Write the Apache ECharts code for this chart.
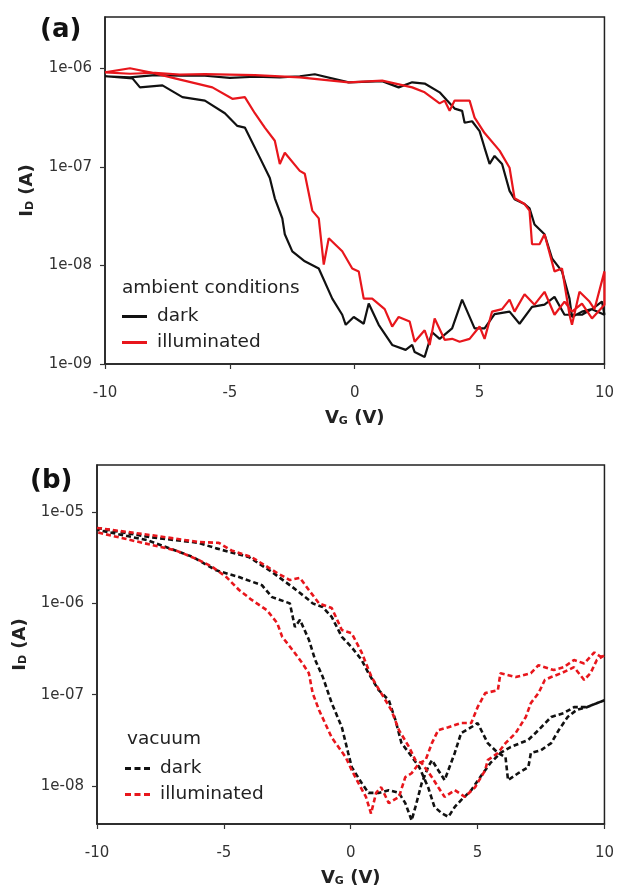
<!DOCTYPE html>
<html>
<head>
<meta charset="utf-8">
<script src="https://cdn.jsdelivr.net/npm/echarts@6/dist/echarts.min.js"></script>
<style>
  html, body { margin: 0; padding: 0; background: #fff; }
  #chart { width: 617px; height: 888px; }
</style>
</head>
<body>
<div id="chart"></div>
<script>
// ---- panel (a): ambient conditions, solid lines ----
const aDarkUpV = [-10, -9, -8, -7, -6, -5, -4, -3, -2.2, -1.6, -0.24, 1.1, 1.76, 2.3, 2.8, 3.4, 3.7, 4.0, 4.3, 4.4, 4.7, 5.0, 5.2, 5.4, 5.6, 5.9, 6.2, 6.4, 6.8, 7.0, 7.2, 7.6, 7.9, 8.3, 8.6, 8.7, 9.1, 9.5, 9.9];
const aDarkUpI = [8.3e-7, 8.1e-7, 8.5e-7, 8.4e-7, 8.4e-7, 8.0e-7, 8.2e-7, 8.1e-7, 8.3e-7, 8.7e-7, 7.2e-7, 7.4e-7, 6.4e-7, 7.2e-7, 7.0e-7, 5.7e-7, 4.7e-7, 3.9e-7, 3.7e-7, 2.8e-7, 2.9e-7, 2.3e-7, 1.56e-7, 1.07e-7, 1.29e-7, 1.07e-7, 5.7e-8, 4.7e-8, 4.2e-8, 3.8e-8, 2.6e-8, 2.07e-8, 1.18e-8, 8.7e-9, 4.6e-9, 3.0e-9, 3.4e-9, 3.6e-9, 4.3e-9];
const aDarkDownV = [-10, -8.9, -8.6, -7.7, -6.9, -6, -5.2, -4.7, -4.4, -3.8, -3.4, -3.2, -2.9, -2.8, -2.5, -2.0, -1.44, -0.9, -0.5, -0.36, -0.04, 0.36, 0.56, 0.96, 1.5, 2.04, 2.3, 2.4, 2.8, 3.1, 3.4, 3.9, 4.3, 4.8, 5.2, 5.6, 6.2, 6.6, 7.1, 7.6, 8.0, 8.4, 9.1, 9.5, 10];
const aDarkDownI = [8.3e-7, 7.9e-7, 6.4e-7, 6.7e-7, 5.1e-7, 4.7e-7, 3.5e-7, 2.6e-7, 2.5e-7, 1.24e-7, 7.7e-8, 4.8e-8, 3.0e-8, 2.07e-8, 1.39e-8, 1.1e-8, 9.3e-9, 4.6e-9, 3.16e-9, 2.5e-9, 3.0e-9, 2.56e-9, 4.1e-9, 2.5e-9, 1.56e-9, 1.39e-9, 1.56e-9, 1.32e-9, 1.18e-9, 2.1e-9, 1.8e-9, 2.3e-9, 4.5e-9, 2.3e-9, 2.3e-9, 3.2e-9, 3.4e-9, 2.56e-9, 3.8e-9, 4.0e-9, 4.8e-9, 3.16e-9, 3.16e-9, 3.6e-9, 3.16e-9];
const aIllumUpV = [-10, -9, -8, -7, -6, -4, -2.2, -0.24, 1.1, 2.3, 2.8, 3.4, 3.6, 3.8, 4.0, 4.6, 4.8, 5.2, 5.8, 6.2, 6.4, 6.8, 7.0, 7.1, 7.4, 7.6, 8.0, 8.3, 8.6, 8.7, 9.0, 9.4, 9.6, 10];
const aIllumUpI = [9.1e-7, 8.8e-7, 9.0e-7, 8.6e-7, 8.7e-7, 8.5e-7, 8.1e-7, 7.2e-7, 7.5e-7, 6.4e-7, 5.7e-7, 4.4e-7, 4.7e-7, 3.7e-7, 4.7e-7, 4.7e-7, 3.16e-7, 2.2e-7, 1.46e-7, 9.8e-8, 4.8e-8, 4.2e-8, 3.6e-8, 1.64e-8, 1.64e-8, 2.07e-8, 8.7e-9, 9.3e-9, 3.16e-9, 2.5e-9, 5.4e-9, 4.3e-9, 3.6e-9, 8.7e-9];
const aIllumDownV = [-10, -9, -8.2, -7.2, -5.7, -4.9, -4.4, -4.0, -3.6, -3.2, -3.0, -2.8, -2.2, -2.0, -1.7, -1.44, -1.24, -1.04, -0.5, -0.1, 0.16, 0.36, 0.7, 1.2, 1.5, 1.76, 2.2, 2.4, 2.8, 3.0, 3.2, 3.6, 3.9, 4.2, 4.6, 5.0, 5.2, 5.5, 5.9, 6.2, 6.4, 6.8, 7.2, 7.6, 8.0, 8.4, 8.7, 9.1, 9.5, 10];
const aIllumDownI = [9.1e-7, 1.0e-6, 9.1e-7, 7.9e-7, 6.4e-7, 4.9e-7, 5.1e-7, 3.5e-7, 2.5e-7, 1.84e-7, 1.07e-7, 1.39e-7, 9.1e-8, 8.5e-8, 3.6e-8, 3.0e-8, 1.02e-8, 1.89e-8, 1.39e-8, 9.3e-9, 8.7e-9, 4.6e-9, 4.6e-9, 3.6e-9, 2.4e-9, 3.0e-9, 2.7e-9, 1.68e-9, 2.2e-9, 1.56e-9, 2.9e-9, 1.76e-9, 1.8e-9, 1.68e-9, 1.8e-9, 2.4e-9, 1.8e-9, 3.4e-9, 3.6e-9, 4.5e-9, 3.4e-9, 5.1e-9, 4.0e-9, 5.4e-9, 3.16e-9, 4.3e-9, 3.4e-9, 4.1e-9, 2.9e-9, 4.0e-9];

// ---- panel (b): vacuum, dashed lines ----
const bDark1V = [-10, -7.9, -6, -5.3, -4, -3.1, -2.3, -1.65, -1.5, -1.1, -0.75, -0.35, 0.04, 0.43, 0.7, 1.1, 1.5, 1.76, 2.0, 2.3, 2.7, 3.05, 3.3, 3.6, 3.85, 4.1, 4.35, 4.75, 5.1, 5.5, 5.9, 6.3, 7.0, 7.4, 7.9, 8.4, 8.8, 9.3, 10];
const bDark1I = [6.7e-6, 5.3e-6, 4.6e-6, 4.0e-6, 3.2e-6, 2.2e-6, 1.51e-6, 1.09e-6, 1.0e-6, 9.1e-7, 7.1e-7, 4.3e-7, 3.3e-7, 2.4e-7, 1.72e-7, 1.12e-7, 8.7e-8, 5.3e-8, 2.95e-8, 2.3e-8, 1.61e-8, 9.7e-9, 5.9e-9, 5.0e-9, 4.6e-9, 5.9e-9, 7.0e-9, 9.0e-9, 1.25e-8, 1.78e-8, 2.3e-8, 2.67e-8, 3.2e-8, 4.1e-8, 5.7e-8, 6.3e-8, 7.3e-8, 7.3e-8, 8.7e-8];
const bDark2V = [-10, -8, -6.2, -5.3, -4.4, -3.5, -3.1, -2.4, -2.2, -2.0, -1.65, -1.4, -1.1, -0.75, -0.35, -0.1, 0.04, 0.43, 0.7, 1.1, 1.5, 1.9, 2.15, 2.4, 2.55, 2.8, 3.05, 3.2, 3.45, 3.7, 4.1, 4.35, 4.75, 5.0, 5.4, 5.8, 6.1, 6.2, 6.6, 7.0, 7.1, 7.5, 7.9, 8.2, 8.55, 8.9, 9.3, 10];
const bDark2I = [6.4e-6, 4.9e-6, 3.2e-6, 2.3e-6, 1.94e-6, 1.58e-6, 1.17e-6, 1.0e-6, 5.5e-7, 6.6e-7, 4.0e-7, 2.4e-7, 1.56e-7, 8.1e-8, 4.4e-8, 2.3e-8, 1.61e-8, 1.08e-8, 8.4e-9, 8.4e-9, 9.0e-9, 8.4e-9, 6.5e-9, 4.2e-9, 5.9e-9, 1.08e-8, 1.61e-8, 1.92e-8, 1.49e-8, 1.16e-8, 2.3e-8, 3.8e-8, 4.4e-8, 4.9e-8, 2.95e-8, 2.3e-8, 2.07e-8, 1.16e-8, 1.38e-8, 1.61e-8, 2.3e-8, 2.47e-8, 2.95e-8, 4.1e-8, 5.7e-8, 6.8e-8, 7.3e-8, 8.7e-8];
const bIllum1V = [-10, -7.9, -6, -5.2, -4.7, -3.9, -2.9, -2.4, -2.0, -1.65, -1.25, -0.75, -0.35, 0.04, 0.43, 0.82, 1.2, 1.6, 1.9, 2.3, 2.55, 2.8, 3.2, 3.45, 3.7, 4.1, 4.5, 4.9, 5.3, 5.4, 5.8, 6.1, 6.5, 6.9, 7.1, 7.4, 7.65, 7.9, 8.3, 8.8, 9.2, 9.45, 9.7, 10];
const bIllum1I = [6.7e-6, 5.6e-6, 4.7e-6, 4.6e-6, 3.8e-6, 3.2e-6, 2.15e-6, 1.8e-6, 1.9e-6, 1.4e-6, 1.0e-6, 8.9e-7, 5.1e-7, 4.7e-7, 2.9e-7, 1.56e-7, 1.04e-7, 6.8e-8, 4.1e-8, 2.67e-8, 1.92e-8, 1.78e-8, 1.25e-8, 9.7e-9, 7.6e-9, 9.0e-9, 7.6e-9, 9.7e-9, 1.49e-8, 1.92e-8, 2.3e-8, 2.95e-8, 3.8e-8, 5.7e-8, 8.1e-8, 1.04e-7, 1.45e-7, 1.56e-7, 1.72e-7, 2.0e-7, 1.45e-7, 1.72e-7, 2.4e-7, 2.7e-7];
const bIllum2V = [-10, -7.9, -6.9, -6, -5.45, -4.9, -4.4, -3.9, -3.3, -2.9, -2.7, -2.3, -1.9, -1.65, -1.5, -1.25, -0.75, -0.2, 0.04, 0.3, 0.6, 0.8, 1.0, 1.2, 1.5, 1.9, 2.15, 2.4, 2.7, 2.95, 3.2, 3.45, 3.85, 4.35, 4.75, 5.0, 5.3, 5.8, 5.9, 6.5, 7.1, 7.4, 8.0, 8.4, 8.8, 9.2, 9.6, 9.85, 10];
const bIllum2I = [6.0e-6, 4.4e-6, 3.8e-6, 3.0e-6, 2.5e-6, 1.94e-6, 1.4e-6, 1.09e-6, 8.4e-7, 6.1e-7, 4.3e-7, 3.1e-7, 2.2e-7, 1.72e-7, 1.04e-7, 6.8e-8, 3.4e-8, 2.07e-8, 1.49e-8, 1.08e-8, 7.6e-9, 5.0e-9, 8.4e-9, 9.7e-9, 6.5e-9, 7.6e-9, 1.25e-8, 1.38e-8, 1.78e-8, 1.92e-8, 2.95e-8, 4.1e-8, 4.4e-8, 4.9e-8, 4.9e-8, 7.3e-8, 1.04e-7, 1.12e-7, 1.72e-7, 1.56e-7, 1.72e-7, 2.1e-7, 1.86e-7, 2.0e-7, 2.4e-7, 2.2e-7, 2.9e-7, 2.6e-7, 2.7e-7];

const xTicks = [-10, -5, 0, 5, 10];
const aYTicks = [1e-9, 1e-8, 1e-7, 1e-6];
const bYTicks = [1e-8, 1e-7, 1e-6, 1e-5];
const seriesNames = ['dark', 'illuminated'];

const BLACK = '#111111';
const RED = '#e8161c';
const FONT = 'DejaVu Sans';
const SOLID_ICON = 'path://M0,0h25v3h-25z';
const DASH_ICON = 'path://M0,0h6v3h-6z M9.5,0h6v3h-6z M19,0h6v3h-6z';

// one sweep out and the other sweep back, drawn as one loop
function loop(v1, i1, v2, i2) {
  const out = v1.map((v, k) => [v, i1[k]]);
  const back = v2.map((v, k) => [v, i2[k]]).reverse();
  return out.concat(back);
}

function expLabel(v) {
  const p = Math.round(-Math.log10(v));
  return '1e-' + (p < 10 ? '0' + p : p);
}

const rich = {
  b: { fontFamily: FONT, fontWeight: 'bold', fontSize: 18, color: '#222' },
  s: { fontFamily: FONT, fontWeight: 'bold', fontSize: 11, color: '#222', padding: [7, 0, 0, 0] }
};

function xAxisCfg(idx) {
  return {
    type: 'value', gridIndex: idx, min: -10, max: 10, interval: 5,
    axisLine: { lineStyle: { color: '#222', width: 1.5 } },
    axisTick: { length: 5, lineStyle: { color: '#333', width: 1.2 }, customValues: xTicks },
    axisLabel: { color: '#333', fontFamily: FONT, fontSize: 15, margin: 22, customValues: xTicks },
    splitLine: { show: false },
    name: '{b|V}{s|G}{b| (V)}', nameLocation: 'middle', nameGap: 45,
    nameTextStyle: { rich: rich }
  };
}

function yAxisCfg(idx, min, max, ticks, gap) {
  return {
    type: 'log', logBase: 10, gridIndex: idx, min: min, max: max,
    axisLine: { show: true, onZero: false, lineStyle: { color: '#222', width: 1.5 } },
    axisTick: { show: true, length: 5, lineStyle: { color: '#333', width: 1.2 }, customValues: ticks },
    axisLabel: { color: '#333', fontFamily: FONT, fontSize: 15, margin: 13, customValues: ticks, formatter: expLabel },
    splitLine: { show: false },
    name: '{b|I}{s|D}{b| (A)}', nameLocation: 'middle', nameRotate: 90, nameGap: gap,
    nameTextStyle: { rich: rich }
  };
}

function legendCfg(names, icon, left, top) {
  return {
    data: names.map(n => ({ name: n, icon: icon })),
    orient: 'vertical', left: left, top: top,
    itemWidth: 25, itemHeight: 3, itemGap: 7, selectedMode: false,
    formatter: n => n.split('_')[0],
    textStyle: { fontFamily: FONT, fontSize: 18.5, color: '#222', padding: [0, 0, 0, 5], lineHeight: 19 }
  };
}

function lineSeries(name, axis, data, color, dashed) {
  return {
    name: name, type: 'line', xAxisIndex: axis, yAxisIndex: axis,
    data: data, symbol: 'none', animation: false,
    lineStyle: { color: color, width: dashed ? 2.6 : 2.2, type: dashed ? [5, 3] : 'solid' },
    itemStyle: { color: color }
  };
}

const chart = echarts.init(document.getElementById('chart'));
chart.setOption({
  backgroundColor: '#fff',
  grid: [
    { left: 105, top: 17, width: 501, height: 347, show: true, borderColor: '#222', borderWidth: 1.5 },
    { left: 97, top: 465, width: 510, height: 359, show: true, borderColor: '#222', borderWidth: 1.5 }
  ],
  xAxis: [xAxisCfg(0), xAxisCfg(1)],
  yAxis: [
    yAxisCfg(0, 1e-9, Math.pow(10, -5.48), aYTicks, 69),
    yAxisCfg(1, Math.pow(10, -8.416), Math.pow(10, -4.485), bYTicks, 68)
  ],
  legend: [
    legendCfg(seriesNames.map(n => n + '_a'), SOLID_ICON, 117, 302),
    legendCfg(seriesNames.map(n => n + '_b'), DASH_ICON, 120, 754)
  ],
  graphic: [
    { type: 'text', left: 40, top: 17, style: { text: '(a)', font: 'bold 26px "DejaVu Sans"', fill: '#111' } },
    { type: 'text', left: 30, top: 468, style: { text: '(b)', font: 'bold 26px "DejaVu Sans"', fill: '#111' } },
    { type: 'text', left: 122, top: 279, style: { text: 'ambient conditions', font: '18.5px "DejaVu Sans"', fill: '#222' } },
    { type: 'text', left: 127, top: 730, style: { text: 'vacuum', font: '18.5px "DejaVu Sans"', fill: '#222' } }
  ],
  series: [
    lineSeries('dark_a', 0, loop(aDarkUpV, aDarkUpI, aDarkDownV, aDarkDownI), BLACK, false),
    lineSeries('illuminated_a', 0, loop(aIllumUpV, aIllumUpI, aIllumDownV, aIllumDownI), RED, false),
    lineSeries('dark_b', 1, loop(bDark1V, bDark1I, bDark2V, bDark2I), BLACK, true),
    lineSeries('illuminated_b', 1, loop(bIllum1V, bIllum1I, bIllum2V, bIllum2I), RED, true)
  ]
});
</script>
</body>
</html>
